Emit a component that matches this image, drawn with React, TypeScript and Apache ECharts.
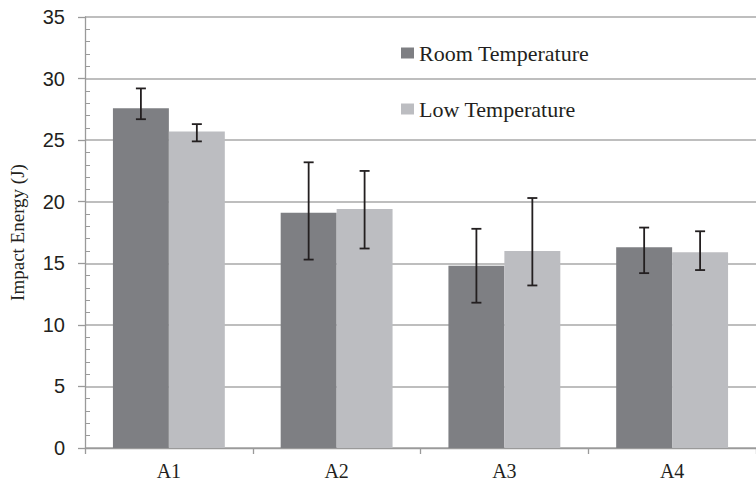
import React, { useEffect, useRef } from "react";
import * as echarts from "echarts";

const categories = ["A1", "A2", "A3", "A4"];
const roomValues = [27.6, 19.1, 14.8, 16.3];
const roomLow = [26.7, 15.3, 11.8, 14.2];
const roomHigh = [29.2, 23.2, 17.8, 17.9];
const lowValues = [25.7, 19.4, 16.0, 15.9];
const lowLow = [24.9, 16.2, 13.2, 14.45];
const lowHigh = [26.3, 22.5, 20.3, 17.6];
const yTicks = [0, 5, 10, 15, 20, 25, 30, 35];

const CAT_GAP = 0.333;

function errorSeries(name: string, lows: number[], highs: number[], side: number) {
  return {
    type: "custom",
    name: name + " error",
    z: 5,
    silent: true,
    encode: { x: 0, y: [1, 2] },
    data: categories.map((_, i) => [i, lows[i], highs[i]]),
    renderItem: (params: any, api: any) => {
      const lo = api.coord([api.value(0), api.value(1)]);
      const hi = api.coord([api.value(0), api.value(2)]);
      const band = api.size([1, 0])[0];
      const bw = (band * (1 - CAT_GAP)) / 2;
      const cx = lo[0] + (side * bw) / 2;
      const cap = 5;
      const style = { stroke: "#231f20", lineWidth: 1.8 };
      return {
        type: "group",
        children: [
          { type: "line", shape: { x1: cx, y1: lo[1], x2: cx, y2: hi[1] }, style },
          { type: "line", shape: { x1: cx - cap, y1: hi[1], x2: cx + cap, y2: hi[1] }, style },
          { type: "line", shape: { x1: cx - cap, y1: lo[1], x2: cx + cap, y2: lo[1] }, style },
        ],
      };
    },
  };
}

export default function App() {
  const ref = useRef<HTMLDivElement>(null);
  useEffect(() => {
    if (!ref.current) return;
    const chart = echarts.init(ref.current, null, { renderer: "svg" });
    chart.setOption({
      animation: false,
      backgroundColor: "#ffffff",
      grid: { left: 85, right: -13, top: 17, bottom: 40, containLabel: false },
      legend: {
        orient: "vertical",
        left: 401,
        top: 42,
        padding: 0,
        itemWidth: 13,
        itemHeight: 11,
        itemGap: 34,
        icon: "rect",
        data: ["Room Temperature", "Low Temperature"],
        textStyle: {
          fontFamily: "Liberation Serif",
          fontSize: 22,
          color: "#231f20",
        },
      },
      xAxis: {
        type: "category",
        data: categories,
        axisLine: { show: true, lineStyle: { color: "#9a9a9a", width: 1.3 } },
        axisTick: { show: true, length: 6, lineStyle: { color: "#9a9a9a", width: 1.3 } },
        axisLabel: {
          fontFamily: "Liberation Serif",
          fontSize: 20,
          color: "#231f20",
          margin: 13,
        },
        splitLine: { show: false },
      },
      yAxis: {
        type: "value",
        min: 0,
        max: 35,
        interval: 5,
        name: "Impact Energy (J)",
        nameLocation: "middle",
        nameGap: 58,
        nameTextStyle: { fontFamily: "Liberation Serif", fontSize: 19, color: "#231f20" },
        axisLine: { show: true, lineStyle: { color: "#9a9a9a", width: 1.3 } },
        axisTick: { show: true, length: 7, lineStyle: { color: "#9a9a9a", width: 1.3 } },
        minorTick: { show: true, splitNumber: 5, length: -5, lineStyle: { color: "#9a9a9a", width: 1 } },
        axisLabel: {
          fontFamily: "Liberation Sans",
          fontSize: 20,
          color: "#231f20",
          margin: 20,
          formatter: (v: number) => (yTicks.includes(v) ? String(v) : ""),
        },
        splitLine: { show: true, lineStyle: { color: "#a8a8a8", width: 1.6 } },
      },
      series: [
        {
          type: "bar",
          name: "Room Temperature",
          data: roomValues,
          barGap: "0%",
          barCategoryGap: "33.3%",
          itemStyle: { color: "#7e7f83" },
          z: 2,
        },
        {
          type: "bar",
          name: "Low Temperature",
          data: lowValues,
          barGap: "0%",
          barCategoryGap: "33.3%",
          itemStyle: { color: "#bcbdc1" },
          z: 2,
        },
        errorSeries("Room Temperature", roomLow, roomHigh, -1),
        errorSeries("Low Temperature", lowLow, lowHigh, 1),
      ],
    });
    return () => chart.dispose();
  }, []);
  return (
    <div
      ref={ref}
      style={{ position: "fixed", left: 0, top: 0, width: 756, height: 488 }}
    />
  );
}
